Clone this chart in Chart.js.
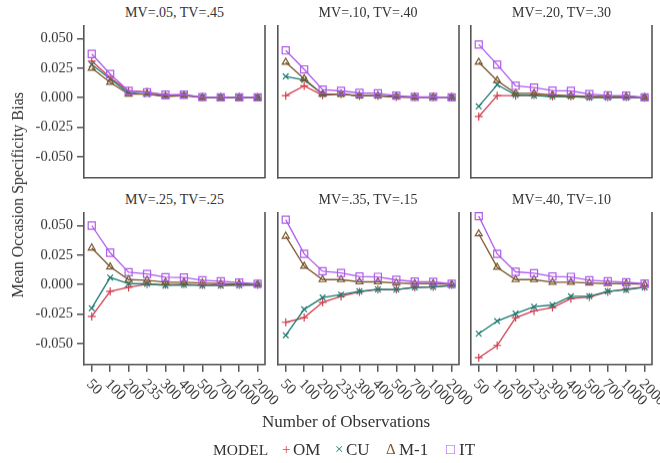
<!DOCTYPE html>
<html>
<head>
<meta charset="utf-8">
<script src="https://cdn.jsdelivr.net/npm/chart.js@4.4.1/dist/chart.umd.min.js"></script>
<style>
  body { margin: 0; background: #fff; }
  #wrap { position: relative; width: 660px; height: 463px; overflow: hidden;
          font-family: 'Liberation Serif', 'Times New Roman', serif; color: #333; }
  #wrap canvas { position: absolute; }
  .lbl { position: absolute; white-space: nowrap; transform: translate(-50%, -50%); }
  .leg { position: absolute; white-space: nowrap; transform: translateY(-50%); }
</style>
</head>
<body>
<div id="wrap"></div>
<script>
// x categories (sample sizes) and y ticks
const obs = ['50', '100', '200', '235', '300', '400', '500', '700', '1000', '2000']
const yTicks = [-0.05, -0.025, 0, 0.025, 0.05]
const models = ['OM', 'CU', 'M-1', 'IT']
const titles = ['MV=.05, TV=.45', 'MV=.10, TV=.40', 'MV=.20, TV=.30',
                'MV=.25, TV=.25', 'MV=.35, TV=.15', 'MV=.40, TV=.10']

// MV=.05, TV=.45
const om1 = [0.031, 0.017, 0.0057, 0.005, 0.002, 0.0025, 0.0003, 0.0002, 0.0002, 0.0001]
const cu1 = [0.028, 0.016, 0.004, 0.003, 0.0015, 0.002, 0.0002, 0.0001, 0.0001, 0.0001]
const m1_1 = [0.025, 0.013, 0.003, 0.003, 0.001, 0.0017, 0.0001, 0.0001, 0.0001, 0.0]
const it1 = [0.037, 0.020, 0.0057, 0.0045, 0.0025, 0.0025, 0.0004, 0.0003, 0.0003, 0.0002]
// MV=.10, TV=.40
const om2 = [0.0017, 0.010, 0.002, 0.003, 0.0015, 0.0015, 0.0006, 0.0003, 0.0003, 0.0002]
const cu2 = [0.018, 0.015, 0.003, 0.003, 0.0015, 0.0015, 0.0008, 0.0003, 0.0003, 0.0002]
const m1_2 = [0.030, 0.016, 0.003, 0.003, 0.0017, 0.0017, 0.001, 0.0004, 0.0004, 0.0003]
const it2 = [0.040, 0.024, 0.0068, 0.0057, 0.004, 0.0037, 0.0017, 0.0006, 0.0006, 0.0003]
// MV=.20, TV=.30
const om3 = [-0.016, 0.0017, 0.0017, 0.0023, 0.001, 0.001, 0.0006, 0.0003, 0.0003, 0.0]
const cu3 = [-0.0074, 0.011, 0.0023, 0.0017, 0.001, 0.001, 0.0, 0.0, 0.0, 0.0]
const m1_3 = [0.030, 0.0145, 0.0037, 0.0037, 0.0023, 0.0017, 0.001, 0.001, 0.001, 0.0003]
const it3 = [0.045, 0.028, 0.010, 0.0085, 0.006, 0.0057, 0.003, 0.002, 0.0017, 0.0003]
// MV=.25, TV=.25
const om4 = [-0.027, -0.0057, -0.0023, 0.0003, 0.0, 0.0003, -0.0003, -0.0003, -0.0003, -0.0003]
const cu4 = [-0.020, 0.006, 0.0008, 0.0006, -0.0008, -0.0003, -0.0008, -0.0008, -0.0006, -0.0003]
const m1_4 = [0.031, 0.015, 0.0042, 0.0037, 0.002, 0.002, 0.0014, 0.0008, 0.0006, 0.0003]
const it4 = [0.050, 0.027, 0.0105, 0.009, 0.0062, 0.006, 0.0037, 0.0028, 0.0017, 0.0006]
// MV=.35, TV=.15
const om5 = [-0.032, -0.028, -0.015, -0.010, -0.0062, -0.0042, -0.0042, -0.0023, -0.002, -0.0003]
const cu5 = [-0.043, -0.021, -0.011, -0.0085, -0.0057, -0.004, -0.0042, -0.0025, -0.002, -0.001]
const m1_5 = [0.041, 0.0156, 0.0042, 0.0042, 0.0023, 0.0023, 0.0014, 0.0008, 0.0008, 0.0003]
const it5 = [0.055, 0.026, 0.0113, 0.0099, 0.0068, 0.0065, 0.004, 0.0025, 0.0023, 0.0006]
// MV=.40, TV=.10
const om6 = [-0.062, -0.0516, -0.028, -0.0224, -0.0195, -0.0119, -0.0105, -0.0062, -0.0037, -0.002]
const cu6 = [-0.0416, -0.031, -0.0246, -0.0187, -0.0173, -0.0099, -0.0099, -0.0057, -0.0045, -0.0023]
const m1_6 = [0.043, 0.0147, 0.0042, 0.0042, 0.002, 0.002, 0.0014, 0.0008, 0.0008, 0.0003]
const it6 = [0.058, 0.026, 0.0108, 0.0096, 0.0068, 0.0065, 0.0037, 0.0028, 0.002, 0.0008]

const panels = [
  [om1, cu1, m1_1, it1], [om2, cu2, m1_2, it2], [om3, cu3, m1_3, it3],
  [om4, cu4, m1_4, it4], [om5, cu5, m1_5, it5], [om6, cu6, m1_6, it6]
]

const colors = ['#d23f50', '#1c7b72', '#7a5830', '#ae5cec']
const shapes = ['cross', 'crossRot', 'triangle', 'rect']
const radii = [4, 4, 4, 5]
const FONT = "'Liberation Serif', 'Times New Roman', serif"
const AX = '#555'

const wrap = document.getElementById('wrap')
const boxLeft = [84, 277.5, 471]
const boxTop = [25, 212]
const boxW = 181, boxH = 152.5
const padL = 60, padR = 30

function addText(txt, x, y, size, extra, cls) {
  const d = document.createElement('div')
  d.className = cls || 'lbl'
  d.style.left = x + 'px'
  d.style.top = y + 'px'
  d.style.fontSize = size + 'px'
  if (extra) Object.assign(d.style, extra)
  d.textContent = txt
  wrap.appendChild(d)
  return d
}

// right frame line + rotated x tick labels (bottom row only)
const framePlugin = {
  id: 'frame',
  afterDraw(chart) {
    const { ctx, chartArea: a } = chart
    ctx.save()
    ctx.strokeStyle = AX
    ctx.lineWidth = 1.6
    ctx.beginPath()
    ctx.moveTo(a.right, a.top)
    ctx.lineTo(a.right, a.bottom)
    ctx.stroke()
    if (chart.options.showXLabels) {
      const xs = chart.scales.x
      ctx.fillStyle = '#333'
      ctx.font = '15px ' + FONT
      ctx.textAlign = 'left'
      ctx.textBaseline = 'middle'
      obs.forEach((lab, i) => {
        ctx.save()
        ctx.translate(xs.getPixelForValue(i) - 3, a.bottom + 17)
        ctx.rotate(Math.PI / 4)
        ctx.fillText(lab, 0, 0)
        ctx.restore()
      })
    }
    ctx.restore()
  }
}

panels.forEach((series, p) => {
  const row = Math.floor(p / 3), col = p % 3
  const bottomRow = row === 1
  const padB = bottomRow ? 50 : 3
  const cv = document.createElement('canvas')
  const w = boxW + padL + padR, h = boxH + padB
  cv.width = w; cv.height = h
  cv.style.left = (boxLeft[col] - padL) + 'px'
  cv.style.top = boxTop[row] + 'px'
  cv.style.width = w + 'px'; cv.style.height = h + 'px'
  wrap.appendChild(cv)

  addText(titles[p], boxLeft[col] + boxW / 2, boxTop[row] - 12, 14)

  const datasets = series.map((vals, k) => ({
    label: models[k],
    data: vals.map((v, i) => ({ x: i, y: v })),
    borderColor: colors[k],
    backgroundColor: 'rgba(0,0,0,0)',
    pointBorderColor: colors[k],
    pointBackgroundColor: 'rgba(0,0,0,0)',
    pointStyle: shapes[k],
    pointRadius: radii[k],
    pointBorderWidth: 1.2,
    borderWidth: 1.3,
    tension: 0,
    clip: false,
    order: 3 - k
  }))

  new Chart(cv, {
    type: 'line',
    data: { datasets },
    plugins: [framePlugin],
    options: {
      responsive: false,
      animation: false,
      devicePixelRatio: 1,
      showXLabels: bottomRow,
      layout: { autoPadding: false, padding: { left: 0, right: padR, top: 0, bottom: 0 } },
      plugins: { legend: { display: false }, tooltip: { enabled: false } },
      scales: {
        x: {
          type: 'linear', min: -0.42, max: 9.4,
          afterBuildTicks: s => { s.ticks = obs.map((_, i) => ({ value: i })) },
          afterFit: s => { s.height = padB; s.paddingLeft = 0; s.paddingRight = 0 },
          ticks: { display: false },
          grid: { drawOnChartArea: false, drawTicks: bottomRow, tickLength: 7, color: AX, lineWidth: 1.5 },
          border: { display: true, color: AX, width: 1.6 }
        },
        y: {
          min: -0.068, max: 0.0615,
          afterBuildTicks: s => { s.ticks = yTicks.map(v => ({ value: v })) },
          afterFit: s => { s.width = padL; s.paddingTop = 0; s.paddingBottom = 0 },
          ticks: {
            display: col === 0, padding: 4, color: '#333',
            font: { family: FONT, size: 14.5 },
            callback: v => v.toFixed(3)
          },
          grid: { drawOnChartArea: false, drawTicks: col === 0, tickLength: 7, color: AX, lineWidth: 1.5 },
          border: { display: true, color: AX, width: 1.6 }
        }
      }
    }
  })
})

// shared axis titles
addText('Number of Observations', 346, 422, 17)
addText('Mean Occasion Specificity Bias', 18, 195, 16, { transform: 'translate(-50%, -50%) rotate(-90deg)' })

// legend
const syms = ['+', '×', 'Δ', '□']
const symX = [282, 335, 386, 446]
const txtX = [293, 346, 399, 459]
addText('MODEL', 213, 450, 15.5, null, 'leg')
models.forEach((m, k) => {
  addText(syms[k], symX[k], 449, 15, { color: colors[k] }, 'leg')
  addText(m, txtX[k], 450, 17, null, 'leg')
})
</script>
</body>
</html>
